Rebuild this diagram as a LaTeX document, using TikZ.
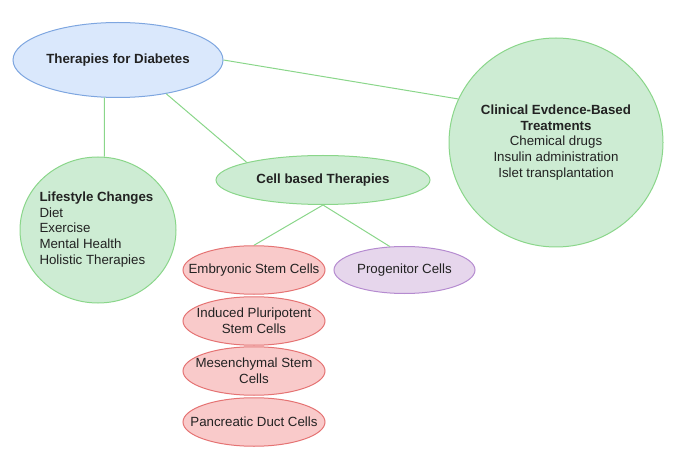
\documentclass[tikz,border=0pt]{standalone}
\usepackage{fontspec}
\setmainfont{Liberation Sans}
\usepackage{xcolor}
\usepackage{tikz}
\usetikzlibrary{shapes.geometric}

\definecolor{bluefill}{HTML}{DAE8FC}
\definecolor{bluedraw}{HTML}{7EA6E0}
\definecolor{greenfill}{HTML}{CDECD3}
\definecolor{greendraw}{HTML}{8AD68A}
\definecolor{redfill}{HTML}{F9CACA}
\definecolor{reddraw}{HTML}{E57373}
\definecolor{purplefill}{HTML}{E6D6EC}
\definecolor{purpledraw}{HTML}{B58BD0}
\definecolor{textgray}{HTML}{222222}

\begin{document}
\begin{tikzpicture}[x=1pt, y=-1pt, line width=1pt,
    every node/.style={font=\fontsize{13.3}{15.6}\selectfont, text=textgray},
    bubble/.style={ellipse, inner sep=0pt, align=center},
    rootbubble/.style={bubble, draw=bluedraw, fill=bluefill},
    greenbubble/.style={bubble, draw=greendraw, fill=greenfill},
    cellbubble/.style={bubble, draw=reddraw, fill=redfill, inner xsep=-18pt,
        minimum width=142, minimum height=48.5},
    progbubble/.style={bubble, draw=purpledraw, fill=purplefill},
    link/.style={draw=greendraw}]
    \useasboundingbox (0,0) rectangle (677,470);

    % Nút gốc
    \node[rootbubble, minimum width=210, minimum height=75] (ther) at (118,60)
        {\textbf{Therapies for Diabetes}};

    % Ba nhánh chính
    \node[greenbubble, minimum width=214, minimum height=209] (clin) at (556,142.5)
        {\textbf{Clinical Evdence-Based}\\ \textbf{Treatments}\\ Chemical drugs\\
         Insulin administration\\ Islet transplantation};
    \node[greenbubble, minimum width=156, minimum height=146] (life) at (98,230) {};
    \node[anchor=west, align=left, inner sep=0pt] (lifetext) at (39,229.5)
        {\textbf{Lifestyle Changes}\\ Diet\\ Exercise\\ Mental Health\\ Holistic Therapies};
    \node[greenbubble, minimum width=214, minimum height=49] (cell) at (323,180)
        {\textbf{Cell based Therapies}};

    % Các loại tế bào
    \node[cellbubble] (emb) at (254,270) {Embryonic Stem Cells};
    \node[cellbubble] (ipsc) at (254,321) {Induced Pluripotent\\ Stem Cells};
    \node[cellbubble] (msc) at (254,371) {Mesenchymal Stem\\ Cells};
    \node[cellbubble] (duct) at (254,422) {Pancreatic Duct Cells};
    \node[progbubble, minimum width=141, minimum height=47] (prog) at (404.5,270)
        {Progenitor Cells};

    % Đường nối
    \draw[link] (ther.east) -- (clin.156);
    \draw[link] (ther.250) -- (life.85);
    \draw[link] (ther.325) -- (cell.167);
    \draw[link] (cell.south) -- (emb.north);
    \draw[link] (cell.south) -- (prog.122);
\end{tikzpicture}
\end{document}
